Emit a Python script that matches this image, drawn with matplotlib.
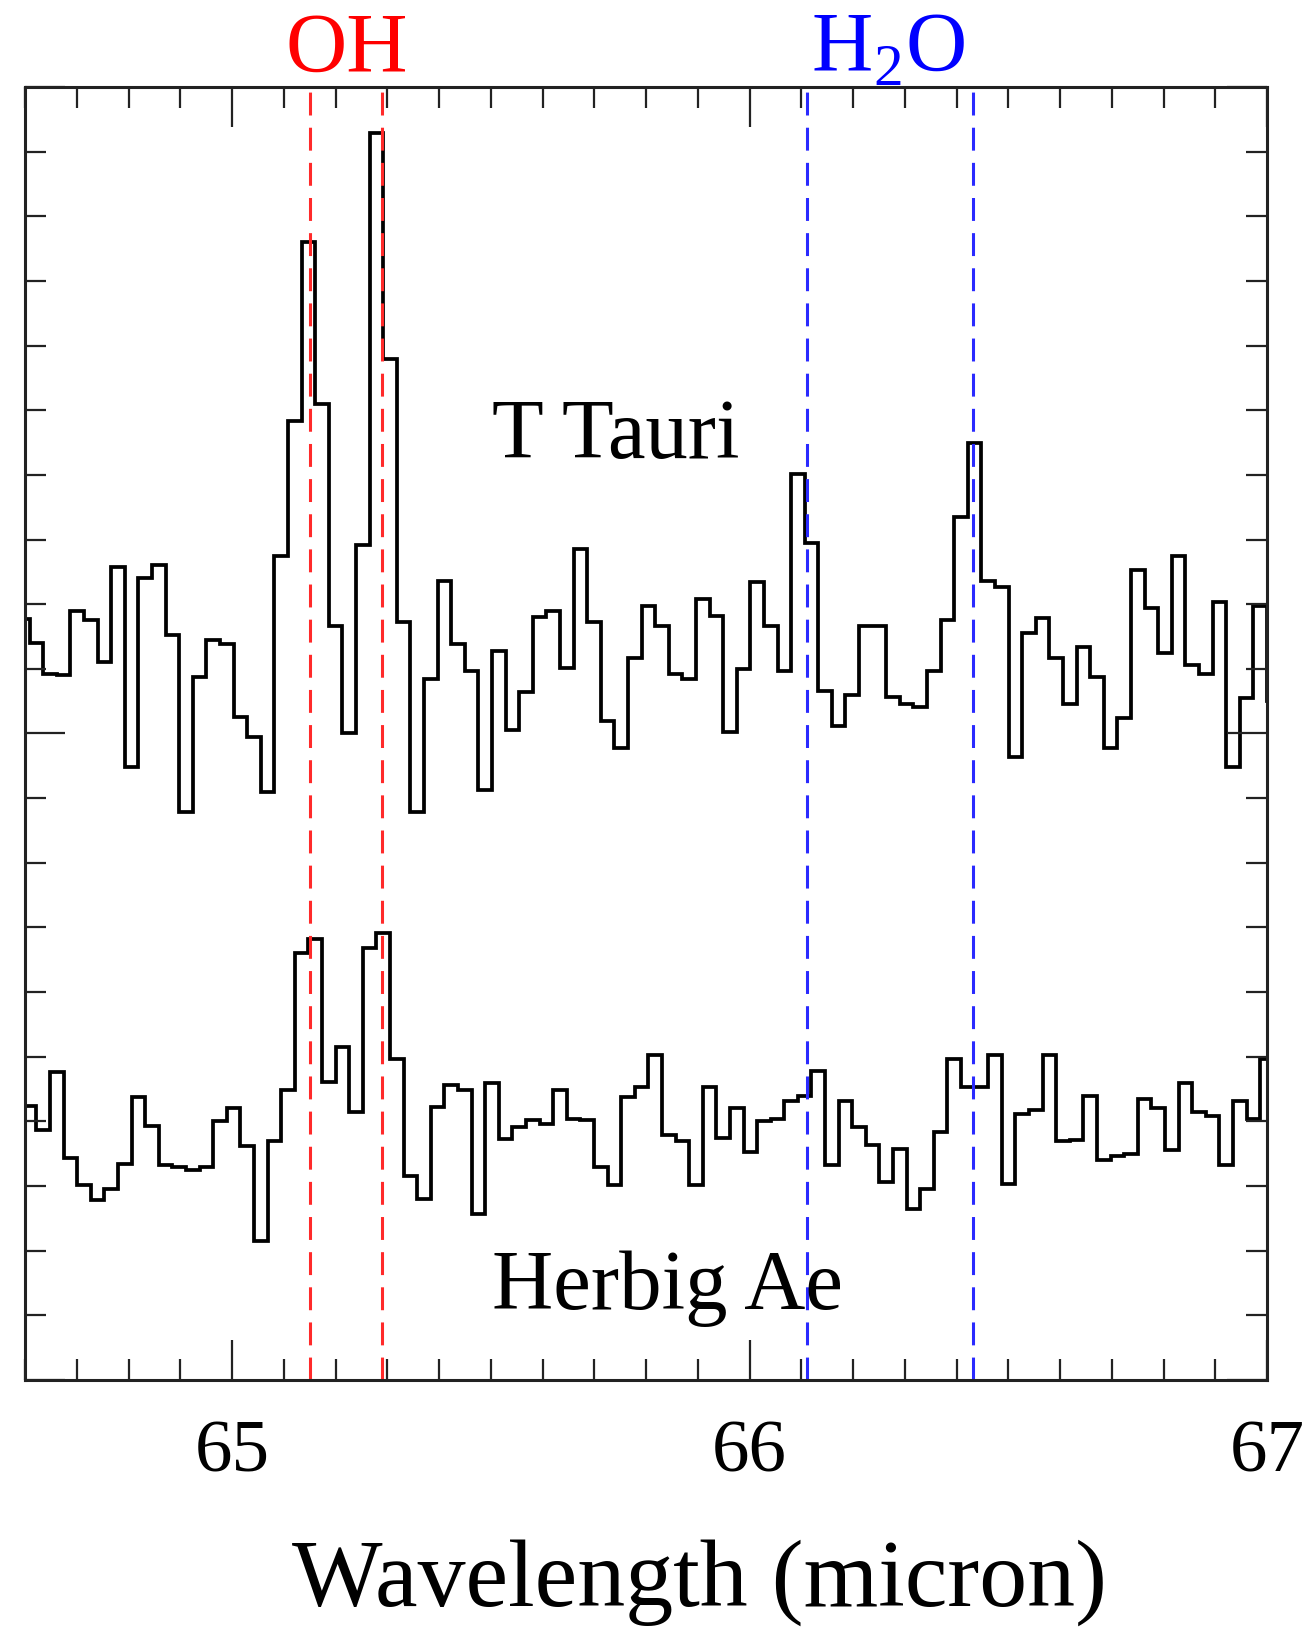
import numpy as np
import matplotlib
matplotlib.use('Agg')
import matplotlib.pyplot as plt
from matplotlib.ticker import MultipleLocator

plt.rcParams['font.family'] = ['Liberation Serif', 'DejaVu Serif']
plt.rcParams['mathtext.fontset'] = 'custom'
plt.rcParams['mathtext.rm'] = 'Liberation Serif'

# wavelength sampling (micron): first full bin edge and bin width
tTauriStart = 64.6090
binWidth = 0.026275
herbigStart = 64.6221

# T Tauri flux (arbitrary offset units), one value per bin, first bin partly left of the axis
tTauriFlux = [11.77, 11.40, 10.92, 10.90, 11.90, 11.76, 11.10, 12.57, 9.48, 12.40,
              12.61, 11.52, 8.78, 10.88, 11.45, 11.38, 10.26, 9.94, 9.10, 12.74,
              14.83, 17.60, 15.09, 11.66, 10.01, 12.92, 19.29, 15.79, 11.73, 8.78,
              10.85, 12.36, 11.38, 10.96, 9.13, 11.27, 10.05, 10.64, 11.80, 11.90,
              11.01, 12.85, 11.73, 10.19, 9.78, 11.17, 11.97, 11.66, 10.92, 10.85,
              12.08, 11.81, 10.03, 10.99, 12.35, 11.67, 10.96, 14.01, 12.95, 10.66,
              10.11, 10.59, 11.66, 11.66, 10.57, 10.46, 10.41, 10.96, 11.76, 13.35,
              14.49, 12.36, 12.26, 9.64, 11.55, 11.78, 11.17, 10.46, 11.34, 10.88,
              9.78, 10.24, 12.53, 11.94, 11.24, 12.74, 11.06, 10.92, 12.04, 9.48,
              10.55, 11.97, 10.50]

herbigFlux = [4.24, 3.86, 4.76, 3.43, 3.01, 2.78, 2.96, 3.34, 4.37, 3.93,
              3.33, 3.29, 3.25, 3.29, 4.00, 4.20, 3.62, 2.15, 3.69, 4.48,
              6.61, 6.82, 4.61, 5.15, 4.15, 6.68, 6.91, 4.97, 3.16, 2.80,
              4.22, 4.56, 4.48, 2.57, 4.60, 3.73, 3.91, 4.02, 3.96, 4.48,
              4.04, 4.02, 3.29, 3.01, 4.37, 4.53, 5.02, 3.79, 3.69, 3.01,
              4.53, 3.75, 4.20, 3.52, 4.01, 4.04, 4.31, 4.40, 4.78, 3.32,
              4.32, 3.92, 3.63, 3.06, 3.58, 2.65, 2.96, 3.83, 4.97, 4.53,
              4.53, 5.02, 3.03, 4.11, 4.18, 5.03, 3.70, 3.72, 4.39, 3.41,
              3.46, 3.50, 4.35, 4.20, 3.55, 4.59, 4.14, 4.09, 3.32, 4.31,
              4.04, 4.97]

ohLines = [65.1507, 65.2893]
waterLines = [66.1105, 66.4313]

tTauriEdges = tTauriStart + binWidth * np.arange(-1, len(tTauriFlux))
herbigEdges = herbigStart + binWidth * np.arange(-1, len(herbigFlux))

fig = plt.figure(figsize=(13.13, 16.31), dpi=100)
ax = fig.add_axes([0.01904, 0.15328, 0.94593, 0.79277])

ax.stairs(tTauriFlux, tTauriEdges, baseline=None, color='black', lw=2.7)
ax.stairs(herbigFlux, herbigEdges, baseline=None, color='black', lw=2.7)

for x in ohLines:
    ax.axvline(x, color='#ff2a2a', lw=2.2, ls=(0, (7.5, 4)))
for x in waterLines:
    ax.axvline(x, color='#2a2aff', lw=2.2, ls=(0, (7.5, 4)))

ax.set_xlim(64.6, 67.0)
ax.set_ylim(0, 20)
ax.xaxis.set_major_locator(MultipleLocator(1))
ax.xaxis.set_minor_locator(MultipleLocator(0.1))
ax.yaxis.set_major_locator(MultipleLocator(10))
ax.yaxis.set_minor_locator(MultipleLocator(1))
ax.set_yticklabels([])
ax.tick_params(which='both', direction='in', top=True, right=True, width=1.6, color='#222222')
ax.tick_params(which='major', length=29)
ax.tick_params(which='minor', length=15)
ax.tick_params(axis='x', which='major', labelsize=54, pad=28)
for s in ax.spines.values():
    s.set_linewidth(2.2)
    s.set_color('#222222')

ax.text(65.502, 14.28, 'T Tauri', fontsize=61, ha='left', va='baseline')
ax.text(65.502, 1.11, 'Herbig Ae', fontsize=61, ha='left', va='baseline')

fig.text(347 / 1313, 1 - 72 / 1631, 'OH', color='red', fontsize=61, ha='center', va='baseline')
fig.text(888 / 1313, 1 - 72 / 1631, r'H$_\mathregular{2}$O', color='blue', fontsize=61, ha='center', va='baseline')
fig.text(699 / 1313, 1 - 1606 / 1631, 'Wavelength (micron)', fontsize=69, ha='center', va='baseline')

fig.savefig('out.png', dpi=100)
